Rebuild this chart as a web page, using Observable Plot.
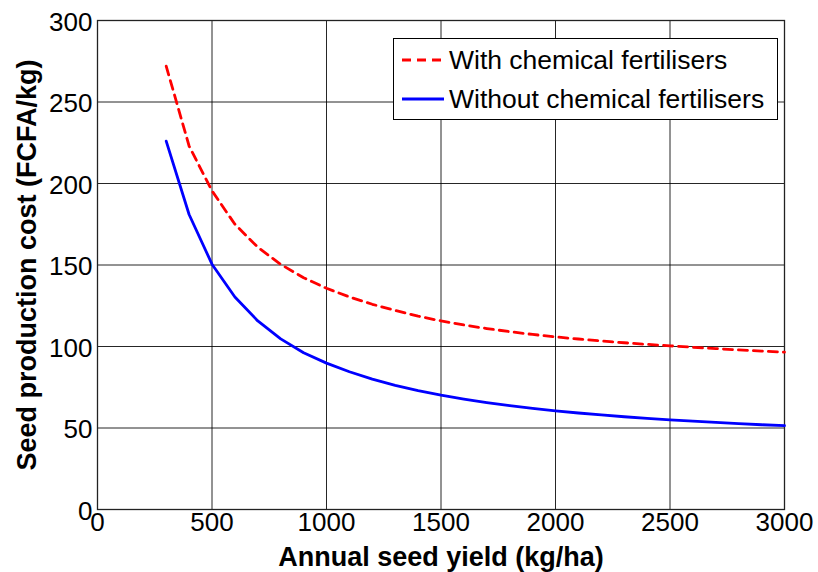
<!DOCTYPE html>
<html>
<head>
<meta charset="utf-8">
<script src="https://cdn.jsdelivr.net/npm/d3@7"></script>
<script src="https://cdn.jsdelivr.net/npm/@observablehq/plot@0.6"></script>
<style>
  html, body { margin: 0; padding: 0; background: #fff; }
  #wrap { position: relative; width: 818px; height: 572px; font-family: "Liberation Sans", Arial, Helvetica, sans-serif; }
  #legend { position: absolute; left: 393px; top: 38px; width: 385px; height: 82px; border: 1.3px solid #000; background: #fff; box-sizing: border-box; }
  .row { position: absolute; left: 0; height: 30px; display: flex; align-items: center; }
  .row svg { margin-left: 8px; width: 42px; height: 6px; }
  .row span { margin-left: 5px; font-size: 26.5px; color: #000; white-space: nowrap; }
</style>
</head>
<body>
<div id="wrap"></div>
<script>
// Data
const seedYield = [300, 400, 500, 600, 700, 800, 900, 1000, 1100, 1200, 1300, 1400, 1500,
  1600, 1700, 1800, 1900, 2000, 2100, 2200, 2300, 2400, 2500, 2600, 2700, 2800, 2900, 3000];
const withFertilisers = [272, 223, 195.5, 175, 160.9, 150.4, 142.2, 135.7, 130.4, 125.9, 122.1, 118.6, 115.7,
  113.2, 111.0, 109.1, 107.4, 105.9, 104.6, 103.4, 102.3, 101.3, 100.4, 99.5, 98.7, 97.9, 97.2, 96.5];
const withoutFertilisers = [226, 181, 150.5, 130.4, 115.7, 104.7, 96.2, 89.8, 84.5, 80.0, 76.2, 72.9, 70.1,
  67.7, 65.6, 63.7, 62.0, 60.5, 59.2, 58.0, 56.9, 55.9, 55.0, 54.2, 53.4, 52.7, 52.0, 51.4];
const xTicks = [0, 500, 1000, 1500, 2000, 2500, 3000];
const yTicks = [0, 50, 100, 150, 200, 250, 300];
const seriesNames = ["With chemical fertilisers", "Without chemical fertilisers"];
const xLabel = "Annual seed yield (kg/ha)";
const yLabel = "Seed production cost (FCFA/kg)";

const withData = seedYield.map((x, i) => ({x, y: withFertilisers[i]}));
const withoutData = seedYield.map((x, i) => ({x, y: withoutFertilisers[i]}));

const font = "Liberation Sans, Arial, Helvetica, sans-serif";

const chart = Plot.plot({
  width: 818,
  height: 572,
  marginLeft: 97,
  marginRight: 34,
  marginTop: 20,
  marginBottom: 63,
  style: {fontFamily: font, fontSize: "26px", background: "#fff", color: "#000", overflow: "visible"},
  x: {domain: [0, 3000]},
  y: {domain: [0, 300]},
  marks: [
    Plot.gridX(xTicks, {stroke: "#000", strokeOpacity: 0.85, strokeWidth: 1}),
    Plot.gridY(yTicks, {stroke: "#000", strokeOpacity: 0.85, strokeWidth: 1}),
    Plot.frame({stroke: "#222", strokeWidth: 1.3}),
    Plot.line(withData, {x: "x", y: "y", stroke: "#ff0000", strokeWidth: 2.8, strokeDasharray: "9,6"}),
    Plot.line(withoutData, {x: "x", y: "y", stroke: "#0000ff", strokeWidth: 2.8}),
    Plot.axisX(xTicks, {tickSize: 0, tickPadding: 3, label: null, fontSize: 26, tickFormat: d3.format("d")}),
    Plot.axisY(yTicks, {tickSize: 0, tickPadding: 5, label: null, fontSize: 26, dy: 2, tickFormat: d3.format("d")}),
    Plot.text([xLabel], {frameAnchor: "bottom", textAnchor: "middle", lineAnchor: "top", dy: 37, text: d => d,
      fontSize: 27, fontWeight: "bold", fill: "#000"}),
    Plot.text([yLabel], {frameAnchor: "left", textAnchor: "middle", rotate: -90, lineAnchor: "top", dx: -81, text: d => d,
      fontSize: 27, fontWeight: "bold", fill: "#000"})
  ]
});

const wrap = document.getElementById("wrap");
wrap.appendChild(chart);

// Legend
const legend = document.createElement("div");
legend.id = "legend";
const styles = [
  {color: "#ff0000", dash: "9,6"},
  {color: "#0000ff", dash: null}
];
seriesNames.forEach((name, i) => {
  const row = document.createElement("div");
  row.className = "row";
  row.style.top = (i === 0 ? 6 : 45) + "px";
  const s = styles[i];
  row.innerHTML = `<svg viewBox="0 0 42 6"><line x1="0" x2="42" y1="3" y2="3" stroke="${s.color}" stroke-width="2.8" ${s.dash ? `stroke-dasharray="${s.dash}"` : ""}/></svg><span>${name}</span>`;
  legend.appendChild(row);
});
wrap.appendChild(legend);
</script>
</body>
</html>
